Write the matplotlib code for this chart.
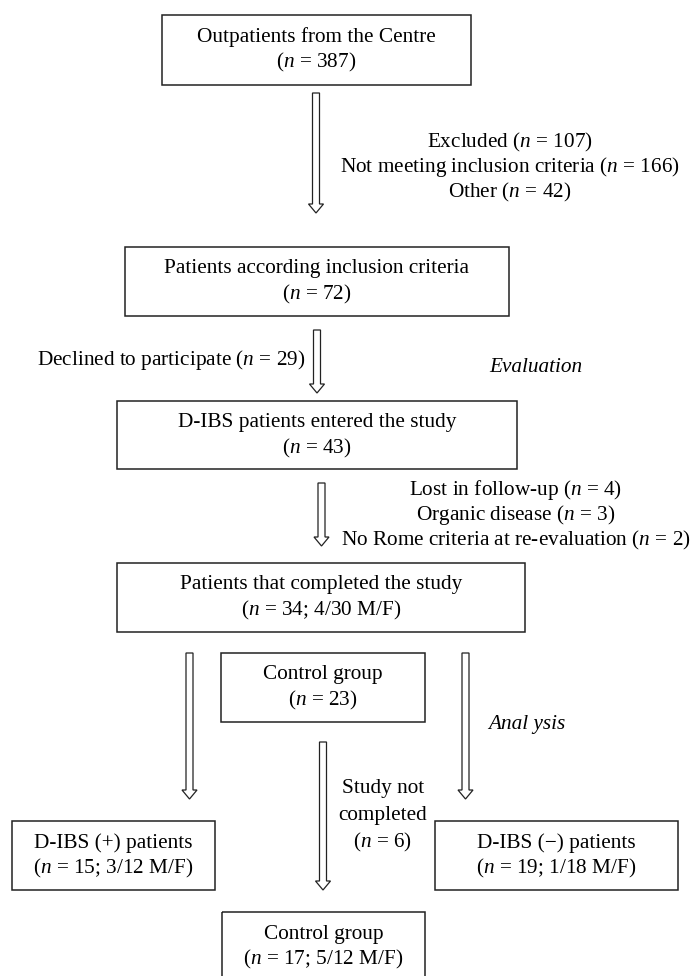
import matplotlib
matplotlib.use("Agg")
import matplotlib.pyplot as plt
from matplotlib.patches import Rectangle, FancyArrow

plt.rcParams['font.family'] = ['Liberation Serif', 'DejaVu Serif']
plt.rcParams['mathtext.fontset'] = 'custom'
plt.rcParams['mathtext.rm'] = 'Liberation Serif'
plt.rcParams['mathtext.it'] = 'Liberation Serif:italic'

# ---- content ----
box_titles = ["Outpatients from the Centre",
              "Patients according inclusion criteria",
              "D-IBS patients entered the study",
              "Patients that completed the study",
              "Control group",
              "D-IBS (+) patients",
              "D-IBS (\u2212) patients",
              "Control group"]
box_counts = ["387", "72", "43", "34; 4/30 M/F", "23",
              "15; 3/12 M/F", "19; 1/18 M/F", "17; 5/12 M/F"]

excluded_labels = ["Excluded", "Not meeting inclusion criteria", "Other"]
excluded_counts = ["107", "166", "42"]
declined_label, declined_count = "Declined to participate", "29"
lost_labels = ["Lost in follow-up", "Organic disease",
               "No Rome criteria at re-evaluation"]
lost_counts = ["4", "3", "2"]
notcompleted_labels = ["Study not", "completed"]
notcompleted_count = "6"
phase_labels = ["Evaluation", "Anal ysis"]

# ---- layout (pixels) ----
W, H = 690, 976
box_rects = [(162, 15, 471, 85), (125, 247, 509, 316), (117, 401, 517, 469),
             (117, 563, 525, 632), (221, 653, 425, 722), (12, 821, 215, 890),
             (435, 821, 678, 890), (222, 912, 425, 982)]
arrows = [(316, 93, 213), (317, 330, 393), (321.5, 483, 546),
          (189.5, 653, 799), (465.5, 653, 799), (323, 742, 890)]

fig = plt.figure(figsize=(W / 100, H / 100), dpi=100)
ax = fig.add_axes([0, 0, 1, 1])
ax.set_xlim(0, W)
ax.set_ylim(H, 0)
ax.axis('off')

FS = 15.3
EC = '#222222'
def nlabel(prefix, count):
    return f"{prefix}($n$ = {count})"

for (x0, y0, x1, y1), t, c in zip(box_rects, box_titles, box_counts):
    ax.add_patch(Rectangle((x0, y0), x1 - x0, y1 - y0, fill=False,
                           ec=EC, lw=1.1))
    cx = (x0 + x1) / 2
    ax.text(cx, y0 + 22, t, ha='center', va='center', fontsize=FS)
    ax.text(cx, y0 + 47, nlabel("", c), ha='center', va='center', fontsize=FS)

for x, ys, ye in arrows:
    ax.add_patch(FancyArrow(x, ys, 0, ye - ys, width=7, head_width=15,
                            head_length=9, length_includes_head=True,
                            fc='white', ec=EC, lw=0.9))

for i, (l, c) in enumerate(zip(excluded_labels, excluded_counts)):
    ax.text(510, 142 + 25 * i, nlabel(l + " ", c), ha='center', va='center',
            fontsize=FS)

ax.text(306, 360, nlabel(declined_label + " ", declined_count), ha='right',
        va='center', fontsize=FS)

for i, (l, c) in enumerate(zip(lost_labels, lost_counts)):
    ax.text(516, 490 + 25 * i, nlabel(l + " ", c), ha='center', va='center',
            fontsize=FS)

for i, l in enumerate(notcompleted_labels):
    ax.text(383, 789 + 26.5 * i, l, ha='center', va='center', fontsize=FS)
ax.text(383, 842, nlabel("", notcompleted_count), ha='center', va='center',
        fontsize=FS)

ax.text(536, 367, phase_labels[0], ha='center', va='center', fontsize=FS,
        style='italic')
ax.text(527, 725, phase_labels[1], ha='center', va='center', fontsize=FS,
        style='italic')

fig.savefig("out.png", dpi=100)
